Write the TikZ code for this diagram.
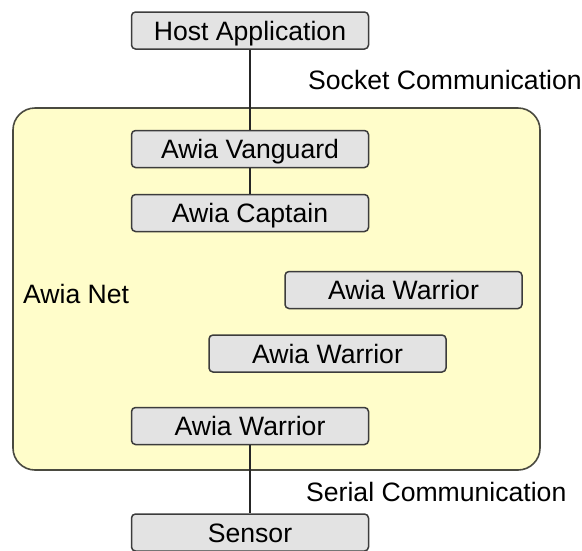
\documentclass[tikz,border=0pt]{standalone}
\usepackage{fontspec}
\setmainfont{Liberation Sans}
\definecolor{boxfill}{HTML}{E3E3E3}
\definecolor{boxline}{HTML}{3C3C3C}
\definecolor{netfill}{HTML}{FFFDCA}
\definecolor{netline}{HTML}{4A4A40}
\begin{document}
\begin{tikzpicture}[x=1pt,y=-1pt,
  box/.style={draw=boxline, fill=boxfill, rounded corners=4pt, line width=1.5pt,
    minimum width=237pt, minimum height=37pt, inner sep=0pt,
    text height=19pt, text depth=0pt, font=\fontsize{26.6}{30}\selectfont},
  lbl/.style={font=\fontsize{26.6}{30}\selectfont, inner sep=0pt, anchor=west,
    text height=19pt, text depth=0pt},
  conn/.style={line width=2.2pt, draw=black!85}]
\clip (0,0) rectangle (582,550);
\node[draw=netline, fill=netfill, rounded corners=22pt, line width=1.6pt,
  minimum width=527pt, minimum height=362pt, inner sep=0pt] (net) at (276.5,289) {};
\node[box] (host) at (250,30.5) {Host Application};
\node[box] (van) at (250,149) {Awia Vanguard};
\node[box] (cap) at (250,213) {Awia Captain};
\node[box] (w1) at (403.5,290) {Awia Warrior};
\node[box] (w2) at (327.5,353.5) {Awia Warrior};
\node[box] (w3) at (250,426) {Awia Warrior};
\node[box] (sensor) at (250,532.5) {Sensor};
\node[lbl] (sock) at (308,80) {Socket Communication};
\node[lbl] (serial) at (306,492) {Serial Communication};
\node[lbl] (awianet) at (23,294) {Awia Net};
\draw[conn] (host) -- (van);
\draw[conn] (van) -- (cap);
\draw[conn] (w3) -- (sensor);
\end{tikzpicture}
\end{document}
